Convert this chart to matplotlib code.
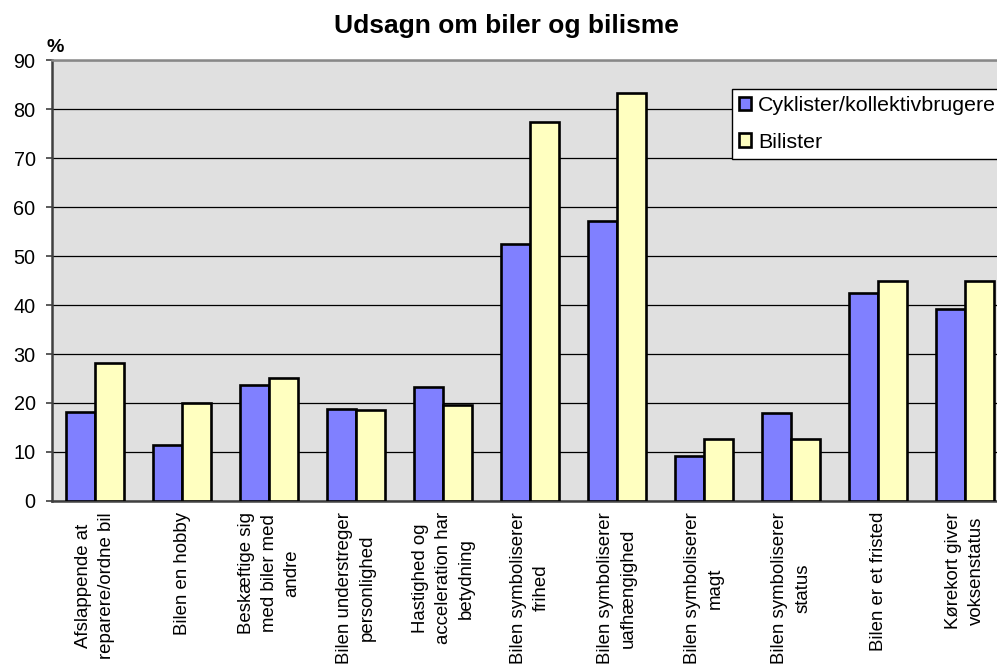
import matplotlib.pyplot as plt
import numpy as np

plt.rcParams['font.family'] = ['Liberation Sans', 'DejaVu Sans']

categories = ['Afslappende at\nreparere/ordne bil',
	'Bilen en hobby',
	'Beskæftige sig\nmed biler med\nandre',
	'Bilen understreger\npersonlighed',
	'Hastighed og\nacceleration har\nbetydning',
	'Bilen symboliserer\nfrihed',
	'Bilen symboliserer\nuafhængighed',
	'Bilen symboliserer\nmagt',
	'Bilen symboliserer\nstatus',
	'Bilen er et fristed',
	'Kørekort giver\nvoksenstatus']
cyklister = [18.2, 11.4, 23.7, 18.7, 23.2, 52.4, 57.1, 9.2, 18.0, 42.5, 39.1]
bilister = [28.1, 20.1, 25.2, 18.5, 19.5, 77.3, 83.2, 12.7, 12.7, 44.8, 44.8]
series_names = ['Cyklister/kollektivbrugere', 'Bilister']
yticks = [0, 10, 20, 30, 40, 50, 60, 70, 80, 90]

fig = plt.figure(figsize=(9.97, 6.64), dpi=100)
ax = fig.add_axes([0.0517, 0.2455, 0.96, 0.6641])
ax.set_facecolor('#E0E0E0')

x = np.arange(len(categories))
w = 1.0/3
ax.bar(x-w/2, cyklister, w, color='#8080FF', edgecolor='black', linewidth=1.9, label=series_names[0], zorder=3)
ax.bar(x+w/2, bilister, w, color='#FFFFC0', edgecolor='black', linewidth=1.9, label=series_names[1], zorder=3)

ax.set_xlim(-0.5, len(categories)-0.5)
ax.set_ylim(0, 90)
ax.set_yticks(yticks)
ax.yaxis.grid(True, color='black', linewidth=0.9, zorder=1)
ax.set_axisbelow(True)
ax.tick_params(axis='y', labelsize=14.3, length=4.5, width=1.2, pad=7, color='#404040')
ax.set_xticks(x)
ax.set_xticklabels(categories, rotation=90, fontsize=13.4, linespacing=1.45, multialignment='center')
ax.tick_params(axis='x', length=0, pad=8)

ax.spines['left'].set_color('#404040')
ax.spines['left'].set_linewidth(1.8)
ax.spines['bottom'].set_color('#404040')
ax.spines['bottom'].set_linewidth(1.8)
ax.spines['top'].set_color('#888888')
ax.spines['top'].set_linewidth(1.8)
ax.spines['right'].set_visible(False)

leg = ax.legend(loc='upper left', bbox_to_anchor=(0.734, 0.866), bbox_transform=fig.transFigure,
	fontsize=15.4, frameon=True, fancybox=False, shadow=False, handlelength=0.57, handleheight=0.57,
	handletextpad=0.3, labelspacing=0.8, borderpad=0.35, borderaxespad=0)
leg.get_frame().set_edgecolor('black')
leg.get_frame().set_linewidth(1.0)
leg.get_frame().set_facecolor('white')
leg.get_frame().set_alpha(1)

fig.text(0.508, 0.950, 'Udsagn om biler og bilisme', ha='center', va='baseline', fontsize=19, fontweight='bold')
fig.text(0.047, 0.9217, '%', ha='left', va='baseline', fontsize=14, fontweight='bold')

plt.savefig('out.png')
